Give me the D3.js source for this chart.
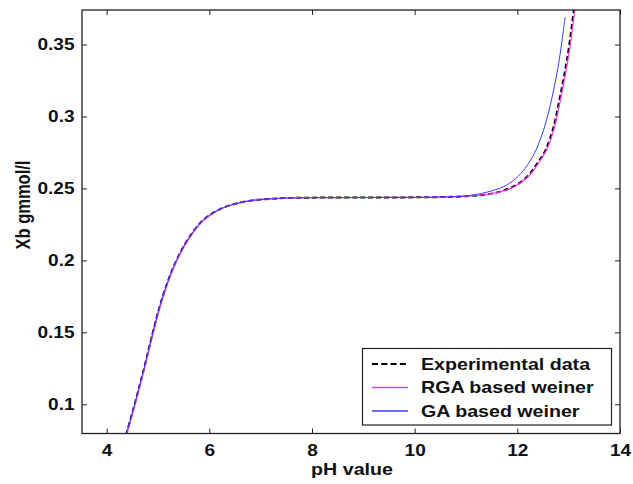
<!DOCTYPE html>
<html>
<head>
<meta charset="utf-8">
<script src="https://cdn.jsdelivr.net/npm/d3@7"></script>
<style>
  body { margin: 0; background: #fff; }
  text { font-family: "Liberation Sans", Arial, sans-serif; font-weight: bold; fill: #111; }
</style>
</head>
<body>
<script>
// pH values and Xb (gmmol/l)
var expPH = [4.30, 4.38, 4.50, 4.62, 4.75, 4.90, 5.05, 5.23, 5.40, 5.59, 5.80, 5.95, 6.20, 6.47, 6.80, 7.2, 7.6, 8, 9, 10, 10.5, 11.0, 11.5, 11.93, 12.2, 12.4, 12.55, 12.70, 12.82, 12.92, 13.0, 13.1, 13.2];
var expXb = [0.068, 0.079, 0.094, 0.110, 0.128, 0.150, 0.170, 0.189, 0.203, 0.215, 0.225, 0.230, 0.2355, 0.239, 0.2415, 0.2428, 0.2434, 0.2436, 0.2437, 0.2438, 0.2440, 0.2446, 0.2464, 0.2514, 0.2585, 0.2680, 0.2768, 0.2920, 0.3116, 0.330, 0.347, 0.374, 0.405];

var rgaPH = [4.31, 4.39, 4.51, 4.63, 4.76, 4.91, 5.06, 5.24, 5.41, 5.60, 5.81, 5.96, 6.21, 6.48, 6.80, 7.2, 7.6, 8, 9, 10, 10.5, 11.0, 11.5, 11.95, 12.22, 12.42, 12.57, 12.72, 12.84, 12.94, 13.02, 13.12, 13.22];
var rgaXb = [0.068, 0.079, 0.094, 0.110, 0.128, 0.150, 0.170, 0.189, 0.203, 0.215, 0.225, 0.230, 0.2355, 0.239, 0.2415, 0.2428, 0.2434, 0.2436, 0.2437, 0.2438, 0.2440, 0.2446, 0.2464, 0.2514, 0.2585, 0.2680, 0.2768, 0.2920, 0.3116, 0.330, 0.347, 0.374, 0.405];

var gaPH = [4.30, 4.38, 4.50, 4.62, 4.75, 4.90, 5.05, 5.23, 5.40, 5.59, 5.80, 5.95, 6.20, 6.47, 6.80, 7.2, 7.6, 8, 9, 10, 10.5, 11.0, 11.3, 11.67, 11.9, 12.12, 12.30, 12.45, 12.60, 12.77, 12.85, 12.93];
var gaXb = [0.068, 0.079, 0.094, 0.110, 0.128, 0.150, 0.170, 0.189, 0.203, 0.215, 0.225, 0.230, 0.2355, 0.239, 0.2415, 0.2428, 0.2434, 0.2436, 0.2437, 0.2438, 0.2440, 0.2448, 0.2465, 0.2503, 0.2549, 0.2625, 0.2722, 0.2843, 0.3016, 0.3297, 0.3474, 0.3690];

var xTicks = [4, 6, 8, 10, 12, 14];
var yTicks = [0.1, 0.15, 0.2, 0.25, 0.3, 0.35];
var yTickLabels = ["0.1", "0.15", "0.2", "0.25", "0.3", "0.35"];

var seriesNames = ["Experimental data", "RGA based weiner", "GA based weiner"];
var seriesColors = ["#000000", "#ff30ee", "#3a3aff"];

var width = 633, height = 484;
var pLeft = 82, pRight = 620, pTop = 10, pBottom = 433.5;
// the original picture is stretched sideways, so text is widened to match
var stretch = 1.19;

var x = d3.scaleLinear().domain([3.52, 14]).range([pLeft, pRight]);
var y = d3.scaleLinear().domain([0.0797, 0.374]).range([pBottom, pTop]);

var svg = d3.select('body').append('svg')
	.attr('width', width)
	.attr('height', height);

svg.append('clipPath').attr('id', 'plotclip')
	.append('rect')
	.attr('x', pLeft).attr('y', pTop)
	.attr('width', pRight - pLeft).attr('height', pBottom - pTop);

// curves
var series = [
	{ px: expPH, py: expXb, color: seriesColors[0], w: 2, dash: '5,3' },
	{ px: rgaPH, py: rgaXb, color: seriesColors[1], w: 1.2, dash: null },
	{ px: gaPH, py: gaXb, color: seriesColors[2], w: 1, dash: null }
];

var line = d3.line()
	.x(function(d){ return x(d[0]); })
	.y(function(d){ return y(d[1]); })
	.curve(d3.curveCatmullRom.alpha(0.5));

var plot = svg.append('g').attr('clip-path', 'url(#plotclip)');

series.forEach(function(s){
	var pts = s.px.map(function(v, i){ return [v, s.py[i]]; });
	plot.append('path')
		.attr('d', line(pts))
		.attr('fill', 'none')
		.attr('stroke', s.color)
		.attr('stroke-width', s.w)
		.attr('stroke-dasharray', s.dash);
});

// axes, ticks inward on all four sides
var tickLen = 5;
svg.append('g').attr('class', 'xax').attr('transform', 'translate(0,' + pBottom + ')')
	.call(d3.axisBottom(x).tickValues(xTicks).tickSizeInner(-tickLen).tickSizeOuter(0).tickPadding(11))
	.call(function(g){ g.select('.domain').remove(); });
svg.append('g').attr('transform', 'translate(0,' + pTop + ')')
	.call(d3.axisTop(x).tickValues(xTicks).tickSizeInner(-tickLen).tickSizeOuter(0).tickFormat(''))
	.call(function(g){ g.select('.domain').remove(); });
svg.append('g').attr('class', 'yax').attr('transform', 'translate(' + pLeft + ',0)')
	.call(d3.axisLeft(y).tickValues(yTicks).tickSizeInner(-tickLen).tickSizeOuter(0).tickPadding(7.5)
		.tickFormat(function(d, i){ return yTickLabels[i]; }))
	.call(function(g){ g.select('.domain').remove(); });
svg.append('g').attr('transform', 'translate(' + pRight + ',0)')
	.call(d3.axisRight(y).tickValues(yTicks).tickSizeInner(-tickLen).tickSizeOuter(0).tickFormat(''))
	.call(function(g){ g.select('.domain').remove(); });

svg.selectAll('.tick line').attr('stroke', '#222');
svg.selectAll('.tick text')
	.style('font-size', '16px')
	.style('font-family', '"Liberation Sans", Arial, sans-serif')
	.style('font-weight', 'bold')
	.attr('fill', '#111')
	.each(function(){
		var t = d3.select(this);
		var tx = +t.attr('x') || 0;
		t.attr('x', tx / stretch).attr('transform', 'scale(' + stretch + ',1)');
	});

svg.append('rect')
	.attr('x', pLeft).attr('y', pTop)
	.attr('width', pRight - pLeft).attr('height', pBottom - pTop)
	.attr('fill', 'none').attr('stroke', '#222').attr('stroke-width', 1.3);

// axis titles
svg.append('text')
	.attr('transform', 'translate(' + ((pLeft + pRight) / 2 + 1) + ',475) scale(' + stretch + ',1)')
	.attr('text-anchor', 'middle')
	.style('font-size', '16.5px')
	.text('pH value');

svg.append('text')
	.attr('transform', 'translate(30,205) scale(' + stretch + ',1) rotate(-90)')
	.attr('text-anchor', 'middle')
	.style('font-size', '16.5px')
	.text('Xb gmmol/l');

// legend
var lg = svg.append('g');
lg.append('rect')
	.attr('x', 362.5).attr('y', 348.5)
	.attr('width', 249).attr('height', 76.5)
	.attr('fill', '#fff').attr('stroke', '#222').attr('stroke-width', 1.2);

seriesNames.forEach(function(name, i){
	var ly = 364 + i * 23.5;
	lg.append('line')
		.attr('x1', 372).attr('x2', 408)
		.attr('y1', ly).attr('y2', ly)
		.attr('stroke', series[i].color)
		.attr('stroke-width', i === 0 ? 2 : 1.3)
		.attr('stroke-dasharray', i === 0 ? '6,3.3' : null);
	lg.append('text')
		.attr('transform', 'translate(421,' + ly + ') scale(' + stretch + ',1)')
		.attr('dy', '0.36em')
		.style('font-size', '16.5px')
		.text(name);
});
</script>
</body>
</html>
